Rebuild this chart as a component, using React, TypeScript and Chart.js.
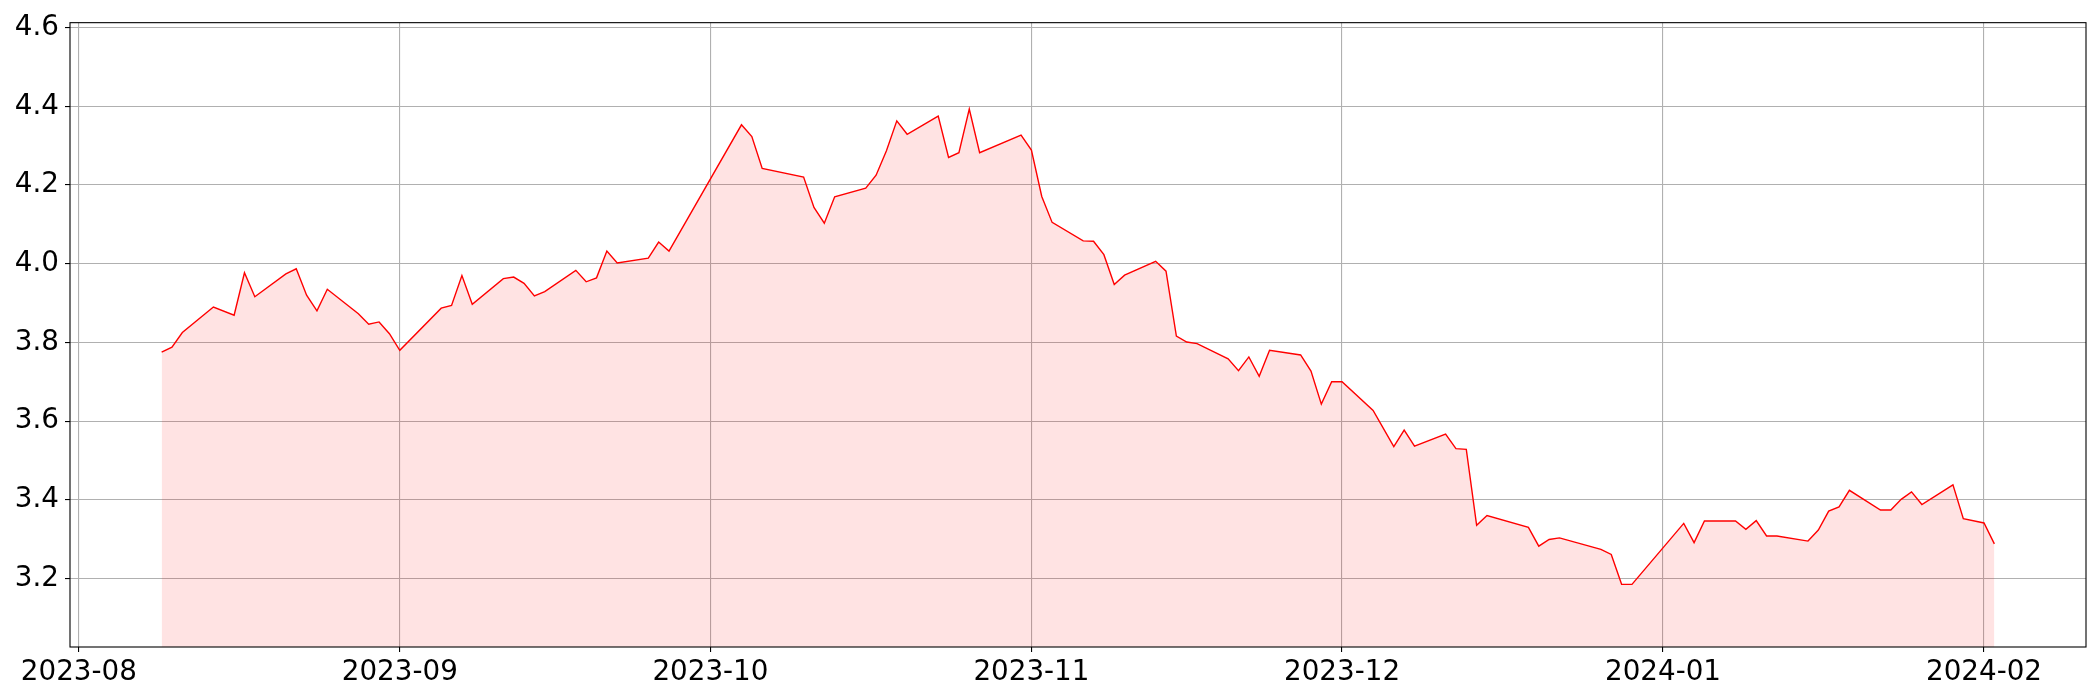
import React, { useEffect, useRef } from "react";
import { Chart, registerables } from "chart.js";

Chart.register(...registerables);

const dates: string[] = [
  "2023-08-09", "2023-08-10", "2023-08-11", "2023-08-14", "2023-08-16", "2023-08-17", "2023-08-18",
  "2023-08-21", "2023-08-22", "2023-08-23", "2023-08-24", "2023-08-25", "2023-08-28", "2023-08-29",
  "2023-08-30", "2023-08-31", "2023-09-01", "2023-09-05", "2023-09-06", "2023-09-07", "2023-09-08",
  "2023-09-11", "2023-09-12", "2023-09-13", "2023-09-14", "2023-09-15", "2023-09-18", "2023-09-19",
  "2023-09-20", "2023-09-21", "2023-09-22", "2023-09-25", "2023-09-26", "2023-09-27", "2023-10-04",
  "2023-10-05", "2023-10-06", "2023-10-10", "2023-10-11", "2023-10-12", "2023-10-13", "2023-10-16",
  "2023-10-17", "2023-10-18", "2023-10-19", "2023-10-20", "2023-10-23", "2023-10-24", "2023-10-25",
  "2023-10-26", "2023-10-27", "2023-10-31", "2023-11-01", "2023-11-02", "2023-11-03", "2023-11-06",
  "2023-11-07", "2023-11-08", "2023-11-09", "2023-11-10", "2023-11-13", "2023-11-14", "2023-11-15",
  "2023-11-16", "2023-11-17", "2023-11-20", "2023-11-21", "2023-11-22", "2023-11-23", "2023-11-24",
  "2023-11-27", "2023-11-28", "2023-11-29", "2023-11-30", "2023-12-01", "2023-12-04", "2023-12-06",
  "2023-12-07", "2023-12-08", "2023-12-11", "2023-12-12", "2023-12-13", "2023-12-14", "2023-12-15",
  "2023-12-19", "2023-12-20", "2023-12-21", "2023-12-22", "2023-12-26", "2023-12-27", "2023-12-28",
  "2023-12-29", "2024-01-03", "2024-01-04", "2024-01-05", "2024-01-08", "2024-01-09", "2024-01-10",
  "2024-01-11", "2024-01-12", "2024-01-15", "2024-01-16", "2024-01-17", "2024-01-18", "2024-01-19",
  "2024-01-22", "2024-01-23", "2024-01-24", "2024-01-25", "2024-01-26", "2024-01-29", "2024-01-30",
  "2024-02-01", "2024-02-02",
];

const values: number[] = [
  3.775, 3.788, 3.825, 3.890, 3.869, 3.977, 3.916,
  3.974, 3.987, 3.920, 3.880, 3.935, 3.873, 3.846,
  3.852, 3.822, 3.780, 3.887, 3.894, 3.970, 3.897,
  3.962, 3.966, 3.950, 3.918, 3.929, 3.983, 3.954,
  3.964, 4.032, 4.002, 4.014, 4.055, 4.032, 4.353,
  4.323, 4.242, 4.220, 4.143, 4.103, 4.170, 4.192,
  4.225, 4.287, 4.363, 4.329, 4.375, 4.270, 4.282,
  4.393, 4.282, 4.327, 4.289, 4.171, 4.105, 4.058,
  4.057, 4.023, 3.947, 3.971, 4.006, 3.981, 3.816,
  3.801, 3.797, 3.758, 3.728, 3.763, 3.714, 3.780,
  3.768, 3.727, 3.643, 3.700, 3.700, 3.627, 3.535,
  3.577, 3.536, 3.567, 3.530, 3.528, 3.335, 3.360,
  3.330, 3.282, 3.299, 3.303, 3.274, 3.261, 3.185,
  3.185, 3.340, 3.291, 3.346, 3.346, 3.325, 3.347,
  3.308, 3.308, 3.295, 3.323, 3.371, 3.382, 3.424,
  3.374, 3.374, 3.401, 3.420, 3.388, 3.438, 3.352,
  3.341, 3.288,
];

const xTickLabels: string[] = ["2023-08", "2023-09", "2023-10", "2023-11", "2023-12", "2024-01", "2024-02"];
const yTickValues: number[] = [3.2, 3.4, 3.6, 3.8, 4.0, 4.2, 4.4, 4.6];

const EPOCH = Date.parse("2023-08-01T00:00:00Z");
const dayOf = (s: string) => (Date.parse(s + "T00:00:00Z") - EPOCH) / 86400000;
const labelOfDay = (d: number) => {
  const dt = new Date(EPOCH + Math.round(d) * 86400000);
  const m = dt.getUTCMonth() + 1;
  return `${dt.getUTCFullYear()}-${m < 10 ? "0" + m : m}`;
};

const FONT = { family: "'DejaVu Sans', sans-serif", size: 27.78 };

const framePlugin = {
  id: "frame",
  afterDatasetsDraw(chart: any) {
    const { ctx, chartArea } = chart;
    ctx.save();
    ctx.strokeStyle = "#000";
    ctx.lineWidth = 1.1;
    ctx.strokeRect(chartArea.left, chartArea.top, chartArea.right - chartArea.left, chartArea.bottom - chartArea.top);
    ctx.restore();
  },
};

export default function App() {
  const ref = useRef<HTMLCanvasElement | null>(null);

  useEffect(() => {
    if (!ref.current) return;
    const pts = dates.map((d, i) => ({ x: dayOf(d), y: values[i] }));
    const xs = pts.map((p) => p.x);
    const xMinD = Math.min(...xs);
    const xMaxD = Math.max(...xs);
    const xr = xMaxD - xMinD;
    const yMinD = Math.min(...values);
    const yMaxD = Math.max(...values);
    const xTickPos = xTickLabels.map((l) => dayOf(l + "-01"));

    const chart = new Chart(ref.current, {
      type: "line",
      data: {
        datasets: [
          {
            data: pts,
            borderColor: "#ff0000",
            borderWidth: 1.4,
            backgroundColor: "rgba(255, 0, 0, 0.11)",
            fill: "start",
            pointRadius: 0,
            tension: 0,
          },
        ],
      },
      options: {
        animation: false,
        responsive: false,
        devicePixelRatio: 1,
        layout: { padding: { left: 0, right: 14, top: 21, bottom: 0 } },
        plugins: { legend: { display: false }, tooltip: { enabled: false } },
        scales: {
          x: {
            type: "linear",
            min: xMinD - 0.05 * xr,
            max: xMaxD + 0.05 * xr,
            afterBuildTicks: (s: any) => {
              s.ticks = xTickPos.map((v) => ({ value: v }));
            },
            afterFit: (s: any) => {
              s.height = 53;
            },
            border: { display: false },
            grid: {
              color: "#b0b0b0",
              lineWidth: 1.1,
              tickColor: "#000",
              tickLength: 5,
              tickWidth: 1.1,
            },
            ticks: {
              autoSkip: false,
              maxRotation: 0,
              minRotation: 0,
              padding: 4,
              color: "#000",
              font: FONT,
              callback: (v: any) => labelOfDay(Number(v)),
            },
          },
          y: {
            type: "linear",
            min: yMinD * 0.95,
            max: yMaxD * 1.05,
            afterBuildTicks: (s: any) => {
              s.ticks = yTickValues.map((v) => ({ value: v }));
            },
            afterFit: (s: any) => {
              s.width = 70;
            },
            border: { display: false },
            grid: {
              color: "#b0b0b0",
              lineWidth: 1.1,
              tickColor: "#000",
              tickLength: 5,
              tickWidth: 1.1,
            },
            ticks: {
              padding: 6,
              color: "#000",
              font: FONT,
              callback: (v: any) => Number(v).toFixed(1),
            },
          },
        },
      },
      plugins: [framePlugin],
    });
    return () => chart.destroy();
  }, []);

  return (
    <div style={{ position: "fixed", left: 0, top: 0, width: 2100, height: 700, background: "#fff" }}>
      <canvas ref={ref} width={2100} height={700} style={{ display: "block", width: 2100, height: 700 }} />
    </div>
  );
}
